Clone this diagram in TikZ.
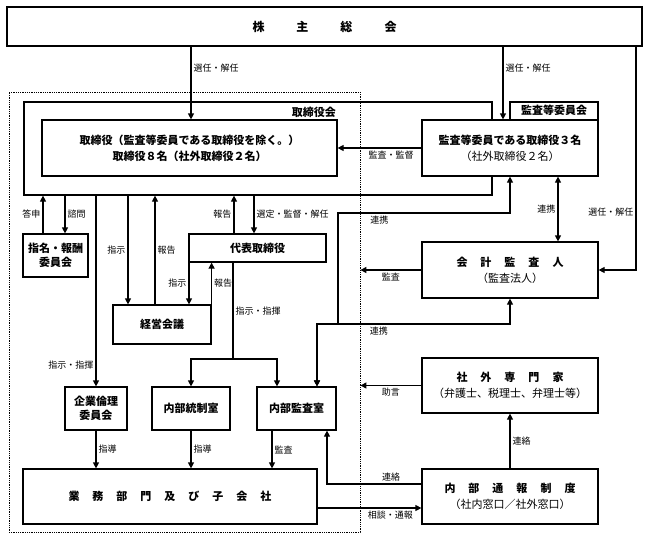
\documentclass[tikz,border=0pt]{standalone}
\usepackage{fontspec}
\setmainfont{Noto Sans CJK JP}
\usetikzlibrary{arrows.meta}

\newcommand{\kgap}{\hspace{13pt}}

\begin{document}
\begin{tikzpicture}[x=1pt,y=-1pt,
    box/.style={draw,line width=1.2pt,fill=white,align=center,inner sep=0pt,
      font=\fontsize{11}{16}\selectfont\bfseries},
    lbl/.style={font=\fontsize{9}{10}\selectfont,inner sep=2pt},
    arr/.style={line width=1.2pt,-{Triangle[length=6pt,width=6pt]}},
    both/.style={line width=1.2pt,{Triangle[length=6pt,width=6pt]}-{Triangle[length=6pt,width=6pt]}}]
  \useasboundingbox (0,0) rectangle (648,541);

  \node[draw,densely dotted,line width=0.8pt,minimum width=351pt,minimum height=440pt] (group) at (184.5,312) {};
  \node[draw,line width=1.2pt,minimum width=468pt,minimum height=93pt] (torikai) at (258,148.5) {};
  \node[draw,line width=1.2pt,minimum width=88pt,minimum height=74pt] (kansakai) at (554,139) {};
  \node[font=\fontsize{11}{12}\selectfont\bfseries,anchor=east,inner sep=0pt] at (336,112) {取締役会};
  \node[font=\fontsize{11}{12}\selectfont\bfseries,inner sep=0pt] at (554,110) {監査等委員会};

  \node[box,minimum width=635pt,minimum height=39pt,font=\fontsize{12}{14}\selectfont\bfseries] (kabu) at (324.5,26.5)
    {株\hspace{32pt}主\hspace{32pt}総\hspace{32pt}会};
  \node[box,minimum width=295pt,minimum height=56pt] (tori) at (189.5,148)
    {取締役（監査等委員である取締役を除く。）\\取締役８名（社外取締役２名）};
  \node[box,minimum width=176pt,minimum height=56pt] (kansa) at (510,148)
    {監査等委員である取締役３名\\{\mdseries（社外取締役２名）}};
  \node[box,minimum width=65pt,minimum height=43pt,font=\fontsize{11}{14}\selectfont\bfseries] (shimei) at (55.5,255.5)
    {指名・報酬\\委員会};
  \node[box,minimum width=137pt,minimum height=28pt] (daihyo) at (257.5,248) {代表取締役};
  \node[box,minimum width=98pt,minimum height=39pt] (keiei) at (162,324.5) {経営会議};
  \node[box,minimum width=176pt,minimum height=56pt] (kaikei) at (510,270)
    {会\kgap 計\kgap 監\kgap 査\kgap 人\\{\mdseries（監査法人）}};
  \node[box,minimum width=62pt,minimum height=43pt,font=\fontsize{11}{14}\selectfont\bfseries] (rinri) at (96,408.5)
    {企業倫理\\委員会};
  \node[box,minimum width=78pt,minimum height=43pt] (tosei) at (191,408.5) {内部統制室};
  \node[box,minimum width=79pt,minimum height=43pt] (naibu) at (296.5,408.5) {内部監査室};
  \node[box,minimum width=176pt,minimum height=55pt] (senmon) at (510,385.5)
    {社\kgap 外\kgap 専\kgap 門\kgap 家\\{\mdseries（弁護士、税理士、弁理士等）}};
  \node[box,minimum width=294pt,minimum height=55pt] (gyomu) at (170,496.5)
    {業\kgap 務\kgap 部\kgap 門\kgap 及\kgap び\kgap 子\kgap 会\kgap 社};
  \node[box,minimum width=176pt,minimum height=55pt] (tsuho) at (510,496.5)
    {内\kgap 部\kgap 通\kgap 報\kgap 制\kgap 度\\{\mdseries（社内窓口／社外窓口）}};

  \coordinate (bendA) at (338,213);
  \coordinate (bendB) at (317,324);
  \coordinate (split) at (233,359);

  \draw[arr] (kabu.south -| 191,0) -- node[lbl,right,pos=0.3] {選任・解任} (tori.north -| 191,0);
  \draw[arr] (kabu.south -| 503,0) -- node[lbl,right,pos=0.3] {選任・解任} (kansa.north -| 503,0);
  \draw[arr] (kabu.south -| 636,0) |- node[lbl,left,pos=0.37] {選任・解任} (kaikei.east);
  \draw[arr] (kansa.west) -- node[lbl,below,pos=0.36] {監査・監督} (tori.east);

  \draw[arr] (shimei.north -| 43,0) -- node[lbl,left] {答申} (torikai.south -| 43,0);
  \draw[arr] (torikai.south -| 65,0) -- node[lbl,right] {諮問} (shimei.north -| 65,0);
  \draw[arr] (torikai.south -| 96,0) -- node[lbl,left,pos=0.89] {指示・指揮} (rinri.north);
  \draw[arr] (torikai.south -| 128,0) -- node[lbl,left] {指示} (keiei.north -| 128,0);
  \draw[arr] (keiei.north -| 155,0) -- node[lbl,right] {報告} (torikai.south -| 155,0);
  \draw[arr] (daihyo.north -| 234,0) -- node[lbl,left] {報告} (torikai.south -| 234,0);
  \draw[arr] (torikai.south -| 254,0) -- node[lbl,right] {選定・監督・解任} (daihyo.north -| 254,0);

  \draw[arr] (daihyo.south -| 189,0) -- node[lbl,left] {指示} (keiei.north -| 189,0);
  \draw[arr] (keiei.north east) -- node[lbl,right] {報告} (daihyo.south -| keiei.north east);
  \draw[line width=1.2pt] (daihyo.south -| split) -- node[lbl,right] {指示・指揮} (split);
  \draw[arr] (split) -| (tosei.north);
  \draw[arr] (split) -| (naibu.north -| 277,0);

  \draw[both] (kansa.south) |- node[lbl,below,pos=0.88] {連携} (bendA) |- (bendB) -- (naibu.north -| bendB);
  \draw[both] (kaikei.south) |- node[lbl,below,pos=0.84] {連携} (bendB) -- (naibu.north -| bendB);
  \draw[both] (kansa.south -| 558,0) -- node[lbl,left] {連携} (kaikei.north -| 558,0);
  \draw[arr] (kaikei.west) -- node[lbl,below] {監査} (kaikei.west -| group.east);
  \draw[arr] (senmon.west) -- node[lbl,below] {助言} (senmon.west -| group.east);
  \draw[arr] (tsuho.north) -- node[lbl,right] {連絡} (senmon.south);
  \draw[arr] ([yshift=12.5pt]tsuho.west) -| node[lbl,above,pos=0.16] {連絡} (naibu.south -| 327,0);
  \draw[arr] ([yshift=-11.5pt]gyomu.east) -- node[lbl,below,pos=0.7] {相談・通報} ([yshift=-11.5pt]tsuho.west);

  \draw[arr] (rinri.south) -- node[lbl,right] {指導} (gyomu.north -| rinri.south);
  \draw[arr] (tosei.south) -- node[lbl,right] {指導} (gyomu.north -| tosei.south);
  \draw[arr] (naibu.south -| 272,0) -- node[lbl,right] {監査} (gyomu.north -| 272,0);
\end{tikzpicture}
\end{document}
